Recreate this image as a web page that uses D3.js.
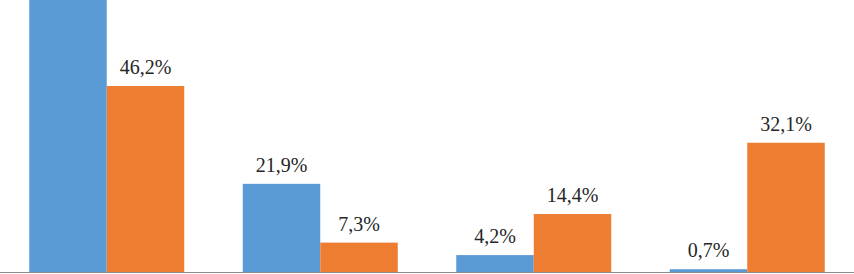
<!DOCTYPE html>
<html>
<head>
<meta charset="utf-8">
<script src="https://cdn.jsdelivr.net/npm/d3@7"></script>
<style>
  html, body { margin: 0; padding: 0; background: #fff; overflow: hidden; }
  svg { display: block; }
  .lbl { font-family: "Times New Roman", Times, "Liberation Serif", serif; font-size: 20px; fill: #262626; }
</style>
</head>
<body>
<svg width="854" height="274"></svg>
<script>
document.addEventListener("DOMContentLoaded", function () {

  // groups (their names are cut off below the picture)
  var categories = ["1", "2", "3", "4"];
  var seriesNames = ["Série 1", "Série 2"];
  var blueValues = [73.2, 21.9, 4.2, 0.7];
  var orangeValues = [46.2, 7.3, 14.4, 32.1];

  var colors = ["#5b9bd5", "#ed7d31"];
  var baseY = 272;

  var svg = d3.select("svg");

  var xScale = d3.scaleBand().domain(categories).range([0, 854]).paddingInner(0.274).paddingOuter(0.137);
  var xInner = d3.scaleBand().domain(seriesNames).range([0, xScale.bandwidth()]);
  var yScale = d3.scaleLinear().domain([0, 80]).range([baseY, baseY - 80 * 4.026]);

  var rows = categories.map(function (c, i) {
    return { cat: c, values: [blueValues[i], orangeValues[i]] };
  });

  var groups = svg.selectAll("g.grp")
    .data(rows)
    .enter().append("g")
    .attr("class", "grp")
    .attr("transform", function (d) { return "translate(" + xScale(d.cat) + ",0)"; });

  var cells = groups.selectAll("g.cell")
    .data(function (d) {
      return d.values.map(function (v, j) { return { name: seriesNames[j], value: v, j: j }; });
    })
    .enter().append("g").attr("class", "cell");

  cells.append("rect")
    .attr("x", function (d) { return xInner(d.name); })
    .attr("y", function (d) { return yScale(d.value); })
    .attr("width", xInner.bandwidth())
    .attr("height", function (d) { return baseY - yScale(d.value); })
    .attr("fill", function (d) { return colors[d.j]; });

  // labels above the top edge are cropped away in the original, so skip them
  cells.filter(function (d) { return yScale(d.value) - 12 > 20; })
    .append("text")
    .attr("class", "lbl")
    .attr("x", function (d) { return xInner(d.name) + xInner.bandwidth() / 2; })
    .attr("y", function (d) { return yScale(d.value) - 12; })
    .attr("text-anchor", "middle")
    .text(function (d) { return d.value.toFixed(1).replace(".", ",") + "%"; });

  // baseline
  svg.append("line")
    .attr("x1", 0).attr("x2", 854)
    .attr("y1", baseY + 0.5).attr("y2", baseY + 0.5)
    .attr("stroke", "#8c8c8c")
    .attr("stroke-width", 1.2);

});
</script>
</body>
</html>
